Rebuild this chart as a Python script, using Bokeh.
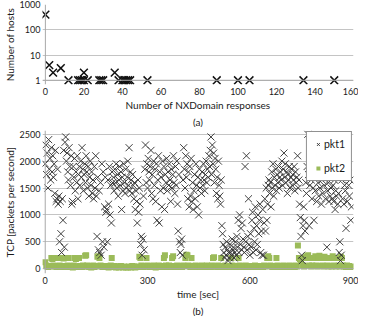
from bokeh.plotting import figure
from bokeh.layouts import column
from bokeh.models import Span, Legend, LegendItem, Title, FixedTicker, Range1d
from bokeh.embed import file_html
from bokeh.resources import INLINE

# ---------------- data: chart (a) ----------------
nx_responses = [0, 2, 4, 8, 12, 17, 18, 19, 20, 20, 22, 28, 29, 30, 36, 38,
                40, 41, 42, 43, 44, 53, 89, 100, 106, 134, 150]
nx_hosts = [400, 4, 2, 3, 1, 1, 1, 1, 2, 1, 1, 1, 1, 1, 2, 1,
            1, 1, 1, 1, 1, 1, 1, 1, 1, 1, 1]
a_yticks = [1, 10, 100, 1000]
a_xticks = [0, 20, 40, 60, 80, 100, 120, 140, 160]

# ---------------- data: chart (b) ----------------
pkt1_time = list(range(0, 900, 2))
pkt1 = [
    1950, 2300, 1750, 2150, 1500, 2400, 1850, 2050, 1650, 2250,
    1800, 2100, 1700, 1950, 1400, 2200, 1250, 1300, 1850, 1200,
    1350, 500, 1250, 650, 300, 1300, 900, 2200, 400, 2350,
    2450, 2000, 2150, 1800, 1650, 2250, 1900, 1550, 2100, 1200,
    1250, 1900, 1700, 2050, 1450, 1800, 1600, 2100, 1300, 1750,
    1900, 1550, 2000, 1700, 2250, 1850, 1450, 1750, 1950, 1600,
    2100, 1800, 1500, 1900, 1350, 1700, 2000, 1550, 1800, 1400,
    1650, 1300, 1900, 1500, 2100, 1350, 600, 1700, 350, 1450,
    300, 1600, 250, 1950, 500, 1800, 400, 1150, 1700, 1050,
    1100, 500, 1650, 1200, 1900, 1000, 1550, 850, 1800, 1600,
    1700, 1450, 1850, 1600, 1950, 1500, 1750, 1350, 1650, 1900,
    1550, 1800, 1100, 1700, 1450, 1950, 1600, 1400, 1850, 1500,
    1700, 2000, 1550, 2250, 1450, 1800, 1650, 1400, 1750, 1550,
    1300, 1600, 1100, 1450, 1250, 850, 1650, 1050, 1500, 1200,
    450, 600, 250, 550, 1350, 350, 1850, 2300, 1600, 1950,
    1500, 2050, 1800, 1650, 1900, 2200, 1400, 1750, 1300, 2000,
    1550, 1850, 1250, 1950, 900, 1650, 2100, 850, 1800, 1450,
    1700, 1150, 2000, 1500, 1900, 1100, 1750, 1600, 2050, 1450,
    1800, 1550, 1950, 1650, 1250, 1850, 1500, 1750, 2100, 1600,
    1400, 1900, 1550, 2000, 1200, 700, 1750, 500, 300, 450,
    550, 250, 1650, 2250, 1850, 1500, 2100, 1700, 1950, 1300,
    1800, 1150, 1900, 1350, 2050, 1250, 1600, 1100, 1450, 1750,
    1300, 1950, 1550, 1150, 1700, 1000, 1850, 1500, 1650, 1400,
    1800, 1550, 1950, 1650, 1450, 1750, 2000, 1600, 1850, 1700,
    2100, 1900, 2200, 2450, 1750, 2300, 1950, 2150, 1600, 2050,
    1850, 1400, 1700, 1300, 2000, 1550, 1350, 1200, 1650, 800,
    650, 450, 300, 200, 400, 250, 500, 350, 150, 300,
    200, 450, 300, 250, 550, 350, 400, 200, 300, 500,
    250, 600, 400, 900, 300, 1000, 450, 750, 350, 850,
    550, 400, 300, 1900, 500, 2100, 350, 600, 1300, 450,
    250, 650, 400, 900, 1050, 300, 750, 500, 1150, 350,
    800, 450, 1000, 650, 900, 1200, 300, 700, 250, 1100,
    250, 850, 1300, 700, 1500, 900, 1200, 1550, 1650, 1400,
    1600, 1150, 1800, 1500, 1950, 1350, 1700, 1550, 1850, 1450,
    1750, 1600, 1900, 1500, 1700, 1800, 1650, 2000, 1550, 1850,
    2150, 1700, 1950, 1600, 1800, 1400, 1750, 1650, 1900, 1500,
    1700, 1850, 1550, 1750, 1650, 1900, 1450, 1800, 1600, 1700,
    2100, 1500, 1650, 1200, 950, 600, 250, 150, 800, 1150,
    900, 700, 1600, 1400, 1900, 2500, 1750, 800, 1550, 2200,
    1650, 1300, 1850, 1500, 900, 1700, 1450, 1800, 1250, 2000,
    1600, 1350, 1900, 1500, 1750, 1200, 1650, 1400, 1850, 1550,
    2200, 1300, 1700, 400, 1450, 1600, 1250, 1800, 1350, 1500,
    1700, 1300, 1550, 1250, 1650, 1100, 1450, 1350, 1800, 1200,
    1400, 300, 500, 150, 250, 1650, 1300, 1800, 1200, 1550,
    1450, 750, 1700, 1250, 1900, 1550, 1350, 1650, 900, 1150,
]
pkt2_time = list(range(0, 900, 3))
pkt2 = [
    120, 60, 40, 30, 50, 40, 200, 180, 60, 200,
    40, 30, 50, 200, 60, 40, 30, 200, 190, 50,
    40, 30, 60, 200, 50, 30, 40, 20, 60, 200,
    180, 40, 30, 200, 50, 40, 30, 60, 40, 240,
    250, 60, 40, 30, 50, 20, 40, 60, 30, 40,
    50, 220, 230, 200, 60, 40, 30, 50, 40, 30,
    50, 40, 20, 30, 60, 200, 40, 30, 50, 20,
    30, 40, 20, 30, 50, 30, 20, 40, 30, 20,
    30, 20, 40, 30, 20, 50, 30, 40, 20, 30,
    40, 30, 220, 200, 60, 40, 30, 50, 40, 200,
    60, 40, 30, 50, 40, 30, 60, 40, 20, 30,
    40, 60, 30, 50, 40, 30, 200, 250, 60, 40,
    30, 60, 40, 30, 200, 230, 50, 40, 30, 60,
    40, 30, 50, 40, 30, 60, 50, 200, 260, 250,
    60, 40, 30, 200, 50, 40, 30, 60, 40, 30,
    50, 40, 30, 60, 40, 30, 50, 40, 60, 30,
    40, 50, 30, 60, 200, 210, 50, 40, 30, 60,
    40, 30, 200, 50, 40, 30, 60, 40, 30, 50,
    40, 30, 200, 60, 40, 30, 50, 40, 30, 200,
    60, 40, 30, 50, 40, 30, 60, 40, 30, 50,
    40, 30, 50, 40, 30, 60, 40, 30, 50, 40,
    30, 50, 40, 30, 60, 40, 50, 200, 230, 200,
    60, 40, 30, 50, 40, 30, 200, 60, 40, 30,
    50, 40, 30, 60, 40, 30, 50, 40, 30, 60,
    40, 30, 50, 40, 30, 60, 40, 430, 200, 180,
    150, 200, 60, 40, 200, 230, 200, 250, 60, 200,
    40, 60, 200, 50, 230, 60, 40, 200, 240, 50,
    200, 60, 40, 220, 50, 200, 60, 40, 200, 50,
    40, 230, 60, 200, 40, 50, 200, 60, 40, 220,
    200, 60, 40, 50, 30, 60, 40, 50, 30, 40,
]
b_yticks = [0, 500, 1000, 1500, 2000, 2500]
b_xticks = [0, 300, 600, 900]

FONT = "Lato"
TXT = "#1a1a1a"
GRID = "#c4c4c4"
AXIS = "#a8a8a8"


def style(p, xticks, yticks):
    p.xaxis.ticker = FixedTicker(ticks=xticks)
    p.yaxis.ticker = FixedTicker(ticks=yticks)
    p.xgrid.grid_line_color = None
    p.ygrid.grid_line_color = GRID
    p.ygrid.grid_line_width = 1
    for ax in (p.xaxis[0], p.yaxis[0]):
        ax.axis_line_color = None
        ax.major_tick_line_color = None
        ax.minor_tick_line_color = None
        ax.major_tick_out = 0
        ax.major_tick_in = 0
        ax.minor_tick_out = 0
        ax.minor_tick_in = 0
        ax.major_label_text_font = FONT
        ax.major_label_text_font_size = "9px"
        ax.major_label_text_color = TXT
        ax.axis_label_text_font = FONT
        ax.axis_label_text_font_size = "10px"
        ax.axis_label_text_font_style = "normal"
        ax.axis_label_text_color = TXT
        ax.major_label_standoff = 3
        ax.axis_label_standoff = 1
    p.yaxis.major_label_standoff = 2
    p.outline_line_color = None
    p.add_layout(Span(location=0, dimension="height", line_color=AXIS, line_width=1))


# ---------------- chart (a) ----------------
p1 = figure(width=358, height=127, y_axis_type="log",
            x_range=Range1d(-1.5, 160), y_range=Range1d(0.68, 1000),
            output_backend="svg", toolbar_location=None,
            min_border_left=32, min_border_right=5, min_border_top=4, min_border_bottom=36)
style(p1, a_xticks, a_yticks)
p1.yaxis.major_label_overrides = {1: "1", 10: "10", 100: "100", 1000: "1000"}
p1.add_layout(Span(location=1, dimension="width", line_color=AXIS, line_width=1))
p1.xaxis.axis_label = "Number of NXDomain responses"
p1.yaxis.axis_label = "Number of hosts"
p1.scatter(nx_responses, nx_hosts, marker="x", size=11, line_color="#111111", line_width=1.5)
t1 = Title(text="(a)", align="center", text_font=FONT, text_font_size="10px",
           text_font_style="normal", text_color=TXT, standoff=0, offset=0)
p1.add_layout(t1, "below")

# ---------------- chart (b) ----------------
p2 = figure(width=358, height=189,
            x_range=Range1d(-8, 904), y_range=Range1d(-90, 2570),
            output_backend="svg", toolbar_location=None,
            min_border_left=40, min_border_right=4, min_border_top=3, min_border_bottom=33)
style(p2, b_xticks, b_yticks)
p2.ygrid.ticker = FixedTicker(ticks=b_yticks[1:])
p2.add_layout(Span(location=0, dimension="width", line_color=AXIS, line_width=1))
p2.xaxis.axis_label = "time [sec]"
p2.yaxis.axis_label = "TCP [packets per second]"
r2 = p2.scatter(pkt2_time, pkt2, marker="square", size=6, fill_color="#9bbb59",
                line_color=None)
r1 = p2.scatter(pkt1_time, pkt1, marker="x", size=10, line_color="#363636",
                line_width=1.0, line_alpha=0.95)
legend = Legend(items=[LegendItem(label="pkt1", renderers=[r1]),
                       LegendItem(label="pkt2", renderers=[r2])],
                location="top_right", margin=1, padding=6, spacing=12,
                glyph_width=10, glyph_height=12, label_standoff=1,
                label_text_font=FONT, label_text_font_size="10.5px", label_text_color=TXT,
                border_line_color="#222222", border_line_width=1,
                background_fill_color="white", background_fill_alpha=1.0)
p2.add_layout(legend)
t2 = Title(text="(b)", align="center", text_font=FONT, text_font_size="10px",
           text_font_style="normal", text_color=TXT, standoff=0, offset=0)
p2.add_layout(t2, "below")

layout = column(p1, p2, spacing=0)
open("out.html", "w").write(file_html(layout, INLINE))
